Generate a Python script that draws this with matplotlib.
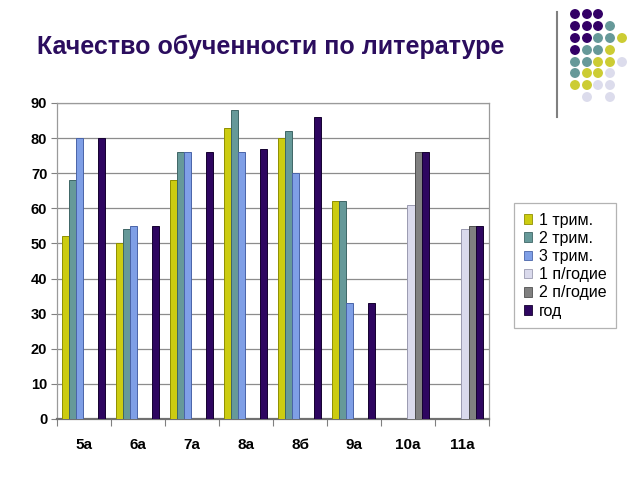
import matplotlib
matplotlib.use("Agg")
import matplotlib.pyplot as plt
import numpy as np
from matplotlib.patches import Patch, Ellipse

categories = ["5а", "6а", "7а", "8а", "8б", "9а", "10а", "11а"]
series_names = ["1 трим.", "2 трим.", "3 трим.", "1 п/годие", "2 п/годие", "год"]
trim1 = [52, 50, 68, 83, 80, 62, np.nan, np.nan]
trim2 = [68, 54, 76, 88, 82, 62, np.nan, np.nan]
trim3 = [80, 55, 76, 76, 70, 33, np.nan, np.nan]
half1 = [np.nan, np.nan, np.nan, np.nan, np.nan, np.nan, 61, 54]
half2 = [np.nan, np.nan, np.nan, np.nan, np.nan, np.nan, 76, 55]
year = [80, 55, 76, 77, 86, 33, 76, 55]
yticks = list(range(0, 91, 10))

series = [trim1, trim2, trim3, half1, half2, year]
colors = ["#CCCC11", "#669999", "#7F9FE6", "#DADAEC", "#808080", "#2E0660"]
edges = ["#8F8F00", "#3F6666", "#4A64A8", "#9A9AB0", "#4F4F4F", "#140030"]

plt.rcParams['font.family'] = ['Liberation Sans', 'DejaVu Sans']
fig = plt.figure(figsize=(6.4, 4.8), dpi=100)
ax = fig.add_axes([57/640, 1-419/480, 432/640, 316/480])

x = np.arange(len(categories))
w = 0.132
for k, (vals, c, e) in enumerate(zip(series, colors, edges)):
    ax.bar(x + (k - 2.5) * w - 0.01, vals, width=w, color=c, edgecolor=e, linewidth=0.7, zorder=3)

ax.set_xlim(-0.5, len(categories) - 0.5)
ax.set_ylim(0, 90)
ax.set_yticks(yticks)
ax.set_yticklabels([str(t) for t in yticks], fontsize=10.5, fontweight='bold')
ax.set_xticks(np.arange(-0.5, len(categories)), minor=False)
ax.set_xticklabels([])
ax.set_xticks(x, minor=True)
ax.set_xticklabels(categories, minor=True, fontsize=11, fontweight='bold')
ax.tick_params(axis='x', which='minor', length=0, pad=14)
ax.tick_params(axis='x', which='major', length=5, color='#808080', direction='out')
ax.tick_params(axis='y', length=4, color='#808080', direction='out', pad=3)
ax.yaxis.grid(True, color='#8C8C8C', linewidth=0.9, zorder=0)
for s in ['top', 'right', 'left']:
    ax.spines[s].set_color('#9A9A9A')
    ax.spines[s].set_linewidth(0.9)
ax.spines['bottom'].set_color('#707070')
ax.spines['bottom'].set_linewidth(1.6)
ax.set_axisbelow(True)

fig.text(271/640, 1-47/480, "Качество обученности по литературе", fontsize=18,
         fontweight='bold', color='#2B0D5E', ha='center', va='center')

handles = [Patch(facecolor=c, edgecolor=e, linewidth=0.6) for c, e in zip(colors, edges)]
leg = fig.legend(handles, series_names, loc='upper left', bbox_to_anchor=(514/640, 1-203/480),
                 frameon=True, fancybox=False, fontsize=11.5, handlelength=0.55, handleheight=0.55,
                 handletextpad=0.4, labelspacing=0.2, borderpad=0.6, borderaxespad=0)
leg.get_frame().set_edgecolor('#A0A0A0')
leg.get_frame().set_linewidth(0.9)

# decoration: vertical line and dot pattern
fig.add_artist(plt.Line2D([557/640, 557/640], [1-12/480, 1-117/480], color='#808080', linewidth=1.5))
D, T, Y, L = "#330066", "#669999", "#CCCC33", "#DCDCEC"
rows = [
    [D, D, D, None, None],
    [D, D, D, T, None],
    [D, D, T, T, Y],
    [D, T, T, Y, None],
    [T, T, Y, Y, L],
    [T, Y, Y, L, None],
    [Y, Y, L, L, None],
    [None, L, None, L, None],
]
xs = [575, 587, 598, 610, 622]
ys = [14, 26, 38, 50, 62, 73, 85, 97]
for r, yy in zip(rows, ys):
    for c, xx in zip(r, xs):
        if c:
            fig.add_artist(Ellipse((xx/640, 1-yy/480), 8.5/640, 8.5/480, color=c,
                                   transform=fig.transFigure))

fig.savefig("out.png", dpi=100)
